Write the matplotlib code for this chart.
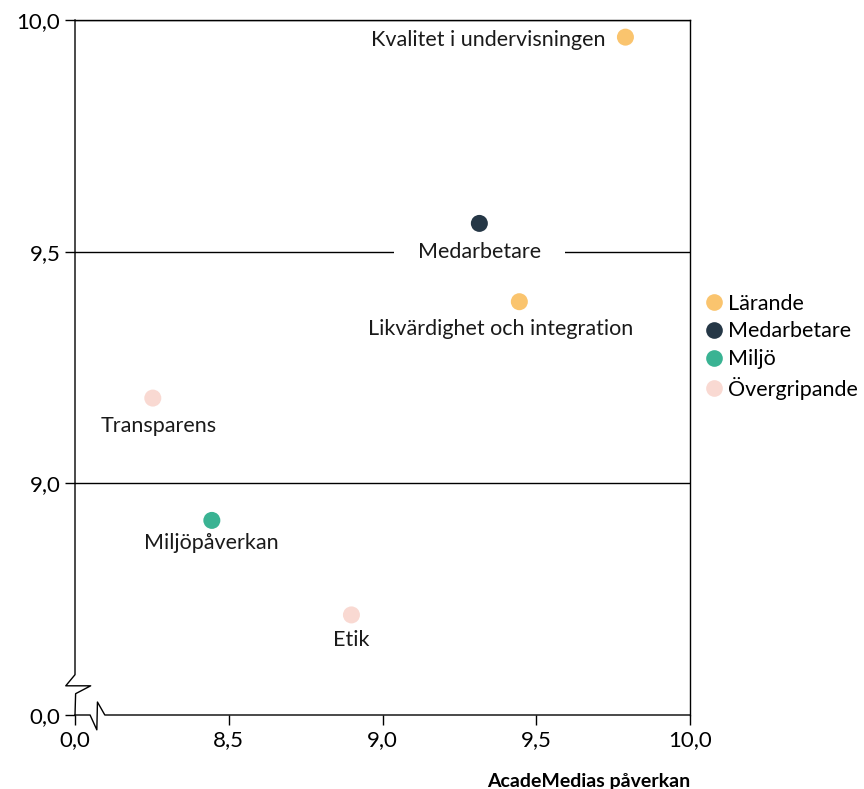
import matplotlib.pyplot as plt
from matplotlib.lines import Line2D

plt.rcParams['font.family'] = ['Lato', 'DejaVu Sans']

# Data (x = AcadeMedias påverkan, y = intressenternas bedömning)
labels = ['Kvalitet i undervisningen', 'Medarbetare', 'Likvärdighet och integration',
          'Transparens', 'Miljöpåverkan', 'Etik']
groups = ['Lärande', 'Medarbetare', 'Lärande', 'Övergripande', 'Miljö', 'Övergripande']
x_vals = [9.79, 9.315, 9.445, 8.253, 8.445, 8.899]
y_vals = [9.963, 9.561, 9.392, 9.184, 8.920, 8.716]

group_names = ['Lärande', 'Medarbetare', 'Miljö', 'Övergripande']
group_colors = ['#FAC46E', '#253746', '#3AB393', '#F9D9D2']

x_ticks = [8.0, 8.5, 9.0, 9.5, 10.0]
x_ticklabels = ['0,0', '8,5', '9,0', '9,5', '10,0']
y_ticks = [8.5, 9.0, 9.5, 10.0]
y_ticklabels = ['0,0', '9,0', '9,5', '10,0']

# label offsets in pixels (dx, dy, ha)
offsets = {
    'Kvalitet i undervisningen': (-20, -3, 'right'),
    'Medarbetare': (0, -29, 'center'),
    'Likvärdighet och integration': (-19, -27, 'center'),
    'Transparens': (6, -28, 'center'),
    'Miljöpåverkan': (-1, -23, 'center'),
    'Etik': (0, -25, 'center'),
}

fig = plt.figure(figsize=(8.64, 7.89), dpi=100)
ax = fig.add_axes([75/864, 1 - 715/789, 615/864, 695/789])
ax.set_xlim(8.0, 10.0)
ax.set_ylim(8.5, 10.0)

for yv in [9.0, 9.5, 10.0]:
    ax.axhline(yv, color='black', linewidth=1, zorder=1)

color_of = dict(zip(group_names, group_colors))
for lab, g, xv, yv in zip(labels, groups, x_vals, y_vals):
    ax.scatter(xv, yv, s=150, color=color_of[g], edgecolors='none', zorder=5)
    dx, dy, ha = offsets[lab]
    kw = {}
    if lab == 'Medarbetare':
        kw['bbox'] = dict(facecolor='white', edgecolor='none', boxstyle='square,pad=1.1')
    ax.annotate(lab, (xv, yv), xytext=(dx, dy), textcoords='offset pixels',
                ha=ha, va='center', fontsize=15.5, color='#1a1a1a', zorder=4, **kw)

ax.set_xticks(x_ticks)
ax.set_xticklabels(x_ticklabels)
ax.set_yticks(y_ticks)
ax.set_yticklabels(y_ticklabels)
ax.tick_params(axis='both', labelsize=16, length=7, width=1, colors='black')
ax.tick_params(axis='x', pad=4)

# spines: draw manually to make axis breaks
for s in ['left', 'bottom']:
    ax.spines[s].set_visible(False)
ax.spines['top'].set_linewidth(1)
ax.spines['right'].set_linewidth(1)

tr = ax.transData
# y-axis with break
ax.add_line(Line2D([8.0, 8.0, 7.970, 8.051, 8.002, 8.0],
                   [10.0, 8.587, 8.563, 8.563, 8.546, 8.5],
                   color='black', linewidth=1, clip_on=False, transform=tr))
# x-axis with break
ax.add_line(Line2D([8.0, 8.049, 8.071, 8.073, 8.097, 10.0],
                   [8.5, 8.5, 8.468, 8.528, 8.5, 8.5],
                   color='black', linewidth=1, clip_on=False, transform=tr))

ax.set_xlabel('AcadeMedias påverkan', fontsize=14, fontweight='bold', loc='right', labelpad=16)

handles = [Line2D([], [], marker='o', linestyle='none', markersize=12,
                  markerfacecolor=c, markeredgecolor='none') for c in group_colors]
fig.legend(handles, group_names, loc='upper left', bbox_to_anchor=(692/864, 1 - 285/789),
           frameon=False, fontsize=15.5, handletextpad=0.05, labelspacing=0.36,
           handlelength=1.2, borderaxespad=0)

plt.savefig('out.png', dpi=100)
